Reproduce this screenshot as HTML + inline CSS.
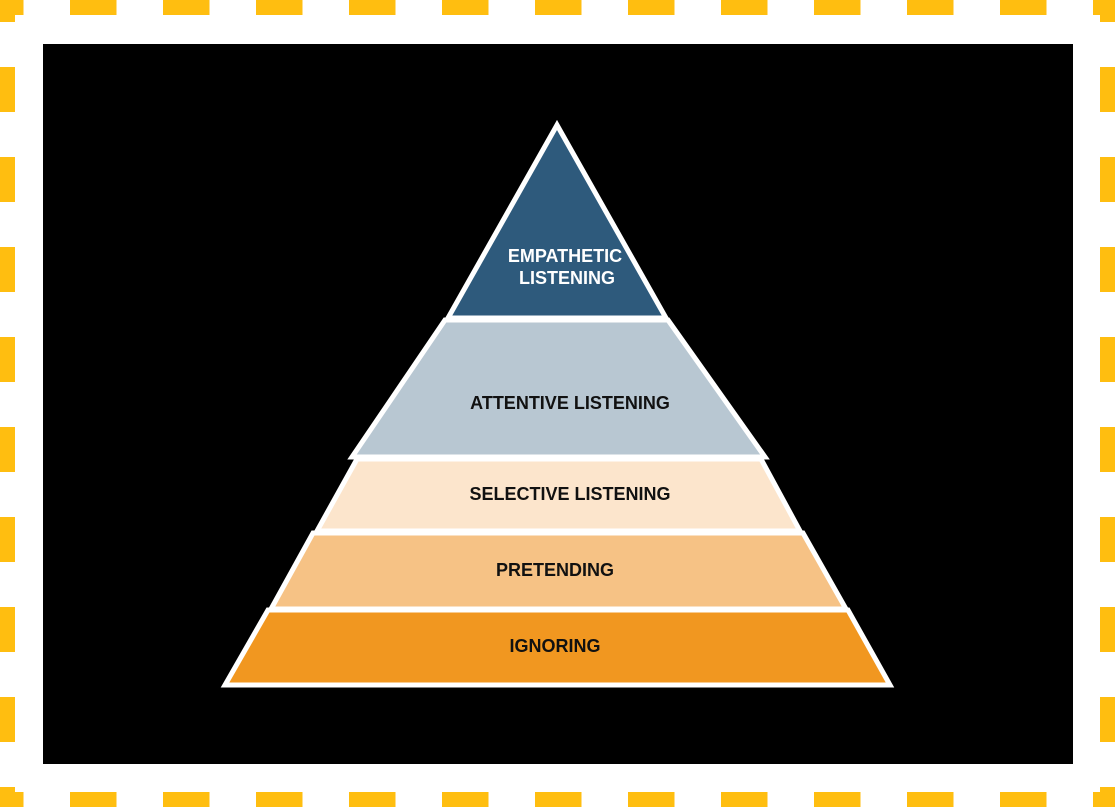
<!DOCTYPE html>
<html><head><style>
html,body{margin:0;padding:0;background:#fff;}
body{width:1115px;height:807px;position:relative;overflow:hidden;}
</style></head><body>
<svg width="1115" height="807" xmlns="http://www.w3.org/2000/svg" style="position:absolute;left:0;top:0">
<rect width="1115" height="807" fill="#fff"/>
<g stroke="#ffbe10" stroke-width="15" fill="none">
<line x1="0" y1="7.5" x2="1115" y2="7.5" stroke-dasharray="46.5 46.5" stroke-dashoffset="23"/>
<line x1="0" y1="799.5" x2="1115" y2="799.5" stroke-dasharray="46.5 46.5" stroke-dashoffset="23"/>
<line x1="7.5" y1="0" x2="7.5" y2="807" stroke-dasharray="45 45" stroke-dashoffset="23"/>
<line x1="1107.5" y1="0" x2="1107.5" y2="807" stroke-dasharray="45 45" stroke-dashoffset="23"/>
</g>
<rect x="43" y="44" width="1030" height="720" fill="#000"/>
<g stroke="#fff" stroke-width="5" stroke-linejoin="miter">
<polygon points="268,610 848,610 890,685 225,685" fill="#f19720"/>
<polygon points="313,533 803,533 846,609 271,609" fill="#f6c285"/>
<polygon points="357,459 761,459 800,531 317,531" fill="#fce5cc"/>
<polygon points="445,320 668,320 765,457 352,457" fill="#b8c7d2"/>
<polygon points="557,125 448,318 666,318" fill="#2e5a7c"/>
</g>
<g font-family="Liberation Sans, sans-serif" font-weight="bold" font-size="18" text-anchor="middle">
<text x="565" y="262" fill="#fff">EMPATHETIC</text>
<text x="567" y="284" fill="#fff">LISTENING</text>
<text x="570" y="409" fill="#111">ATTENTIVE LISTENING</text>
<text x="570" y="500" fill="#111">SELECTIVE LISTENING</text>
<text x="555" y="576" fill="#111">PRETENDING</text>
<text x="555" y="652" fill="#111">IGNORING</text>
</g>
</svg>
</body></html>
